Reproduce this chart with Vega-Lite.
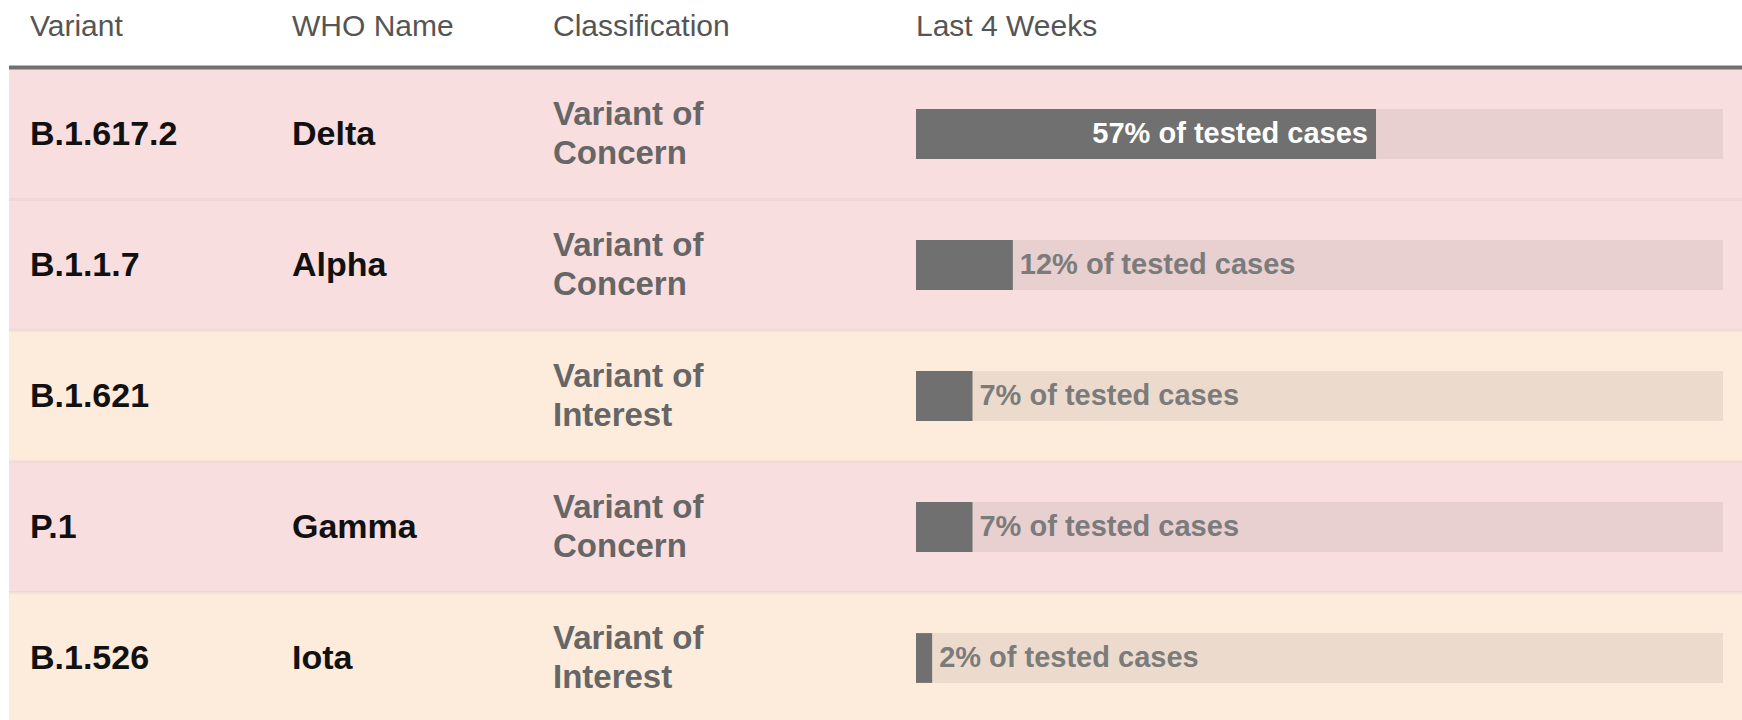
{
  "$schema": "https://vega.github.io/schema/vega-lite/v6.json",
  "padding": {"left": 7, "top": 0, "right": 0, "bottom": 0},
  "spacing": 0,
  "bounds": "flush",
  "background": "#ffffff",
  "config": {
    "view": {"stroke": null},
    "font": "Liberation Sans",
    "text": {"font": "Liberation Sans"}
  },
  "datasets": {
    "rows": [
      {"variant": "B.1.617.2", "who": "Delta", "classification": "Variant of\nConcern", "pct": 57, "label": "57% of tested cases"},
      {"variant": "B.1.1.7", "who": "Alpha", "classification": "Variant of\nConcern", "pct": 12, "label": "12% of tested cases"},
      {"variant": "B.1.621", "who": "", "classification": "Variant of\nInterest", "pct": 7, "label": "7% of tested cases"},
      {"variant": "P.1", "who": "Gamma", "classification": "Variant of\nConcern", "pct": 7, "label": "7% of tested cases"},
      {"variant": "B.1.526", "who": "Iota", "classification": "Variant of\nInterest", "pct": 2, "label": "2% of tested cases"}
    ]
  },
  "hconcat": [
    {
      "width": 283,
      "height": 720,
      "layer": [
        {
          "data": {"name": "rows"},
          "mark": {"type": "rect"},
          "encoding": {
            "y": {"field": "variant", "type": "nominal", "sort": null, "axis": null, "scale": {"range": [68.5, 723.5], "paddingInner": 0, "paddingOuter": 0}},
            "fill": {"field": "classification", "type": "nominal", "legend": null, "scale": {"domain": ["Variant of\nConcern", "Variant of\nInterest"], "range": ["#f9dedf", "#fdebdb"]}}
          }
        },
        {
          "data": {"name": "rows"},
          "mark": {"type": "rule", "color": "#000000", "opacity": 0.05, "strokeWidth": 2.5},
          "encoding": {"y": {"field": "variant", "type": "nominal", "sort": null, "bandPosition": 1}}
        },
        {
          "data": {"name": "rows"},
          "mark": {"type": "text", "align": "left", "baseline": "middle", "fontSize": 34, "fontWeight": "bold", "color": "#111111", "x": 21, "dy": 1},
          "encoding": {
            "y": {"field": "variant", "type": "nominal", "sort": null},
            "text": {"field": "variant"}
          }
        },
        {
          "data": {"values": [{"h": "Variant"}]},
          "mark": {"type": "text", "align": "left", "baseline": "alphabetic", "fontSize": 30, "color": "#555555", "x": 21, "y": 36},
          "encoding": {"text": {"field": "h"}}
        },
        {
          "data": {"values": [{"h": "line"}]},
          "mark": {"type": "rule", "color": "#707070", "strokeWidth": 4},
          "encoding": {"y": {"value": 67.5}}
        }
      ]
    },
    {
      "width": 261,
      "height": 720,
      "layer": [
        {
          "data": {"name": "rows"},
          "mark": {"type": "rect"},
          "encoding": {
            "y": {"field": "variant", "type": "nominal", "sort": null, "axis": null, "scale": {"range": [68.5, 723.5], "paddingInner": 0, "paddingOuter": 0}},
            "fill": {"field": "classification", "type": "nominal", "legend": null, "scale": {"domain": ["Variant of\nConcern", "Variant of\nInterest"], "range": ["#f9dedf", "#fdebdb"]}}
          }
        },
        {
          "data": {"name": "rows"},
          "mark": {"type": "rule", "color": "#000000", "opacity": 0.05, "strokeWidth": 2.5},
          "encoding": {"y": {"field": "variant", "type": "nominal", "sort": null, "bandPosition": 1}}
        },
        {
          "data": {"name": "rows"},
          "mark": {"type": "text", "align": "left", "baseline": "middle", "fontSize": 34, "fontWeight": "bold", "color": "#111111", "x": 0, "dy": 1},
          "encoding": {
            "y": {"field": "variant", "type": "nominal", "sort": null},
            "text": {"field": "who"}
          }
        },
        {
          "data": {"values": [{"h": "WHO Name"}]},
          "mark": {"type": "text", "align": "left", "baseline": "alphabetic", "fontSize": 30, "color": "#555555", "x": 0, "y": 36},
          "encoding": {"text": {"field": "h"}}
        },
        {
          "data": {"values": [{"h": "line"}]},
          "mark": {"type": "rule", "color": "#707070", "strokeWidth": 4},
          "encoding": {"y": {"value": 67.5}}
        }
      ]
    },
    {
      "width": 363,
      "height": 720,
      "layer": [
        {
          "data": {"name": "rows"},
          "mark": {"type": "rect"},
          "encoding": {
            "y": {"field": "variant", "type": "nominal", "sort": null, "axis": null, "scale": {"range": [68.5, 723.5], "paddingInner": 0, "paddingOuter": 0}},
            "fill": {"field": "classification", "type": "nominal", "legend": null, "scale": {"domain": ["Variant of\nConcern", "Variant of\nInterest"], "range": ["#f9dedf", "#fdebdb"]}}
          }
        },
        {
          "data": {"name": "rows"},
          "mark": {"type": "rule", "color": "#000000", "opacity": 0.05, "strokeWidth": 2.5},
          "encoding": {"y": {"field": "variant", "type": "nominal", "sort": null, "bandPosition": 1}}
        },
        {
          "data": {"name": "rows"},
          "mark": {"type": "text", "align": "left", "baseline": "middle", "fontSize": 33, "fontWeight": "bold", "color": "#666666", "x": 0, "dy": -19, "lineBreak": "\n", "lineHeight": 39},
          "encoding": {
            "y": {"field": "variant", "type": "nominal", "sort": null},
            "text": {"field": "classification"}
          }
        },
        {
          "data": {"values": [{"h": "Classification"}]},
          "mark": {"type": "text", "align": "left", "baseline": "alphabetic", "fontSize": 30, "color": "#555555", "x": 0, "y": 36},
          "encoding": {"text": {"field": "h"}}
        },
        {
          "data": {"values": [{"h": "line"}]},
          "mark": {"type": "rule", "color": "#707070", "strokeWidth": 4},
          "encoding": {"y": {"value": 67.5}}
        }
      ]
    },
    {
      "width": 826,
      "height": 720,
      "layer": [
        {
          "data": {"name": "rows"},
          "mark": {"type": "rect"},
          "encoding": {
            "y": {"field": "variant", "type": "nominal", "sort": null, "axis": null, "scale": {"range": [68.5, 723.5], "paddingInner": 0, "paddingOuter": 0}},
            "fill": {"field": "classification", "type": "nominal", "legend": null, "scale": {"domain": ["Variant of\nConcern", "Variant of\nInterest"], "range": ["#f9dedf", "#fdebdb"]}}
          }
        },
        {
          "data": {"name": "rows"},
          "mark": {"type": "rule", "color": "#000000", "opacity": 0.05, "strokeWidth": 2.5},
          "encoding": {"y": {"field": "variant", "type": "nominal", "sort": null, "bandPosition": 1}}
        },
        {
          "data": {"name": "rows"},
          "mark": {"type": "bar", "color": "#000000", "opacity": 0.065, "height": {"band": 0.38}},
          "encoding": {
            "y": {"field": "variant", "type": "nominal", "sort": null},
            "x": {"datum": 0, "type": "quantitative", "axis": null, "scale": {"domain": [0, 102.35], "nice": false, "zero": true}},
            "x2": {"datum": 100}
          }
        },
        {
          "data": {"name": "rows"},
          "mark": {"type": "bar", "color": "#707070", "height": {"band": 0.38}},
          "encoding": {
            "y": {"field": "variant", "type": "nominal", "sort": null},
            "x": {"field": "pct", "type": "quantitative"}
          }
        },
        {
          "data": {"name": "rows"},
          "transform": [{"filter": "datum.pct >= 30"}],
          "mark": {"type": "text", "align": "right", "baseline": "middle", "fontSize": 29, "fontWeight": "bold", "color": "#ffffff", "dx": -8},
          "encoding": {
            "y": {"field": "variant", "type": "nominal", "sort": null},
            "x": {"field": "pct", "type": "quantitative"},
            "text": {"field": "label"}
          }
        },
        {
          "data": {"name": "rows"},
          "transform": [{"filter": "datum.pct < 30"}],
          "mark": {"type": "text", "align": "left", "baseline": "middle", "fontSize": 29, "fontWeight": "bold", "color": "#7b7b7b", "dx": 7},
          "encoding": {
            "y": {"field": "variant", "type": "nominal", "sort": null},
            "x": {"field": "pct", "type": "quantitative"},
            "text": {"field": "label"}
          }
        },
        {
          "data": {"values": [{"h": "Last 4 Weeks"}]},
          "mark": {"type": "text", "align": "left", "baseline": "alphabetic", "fontSize": 30, "color": "#555555", "x": 0, "y": 36},
          "encoding": {"text": {"field": "h"}}
        },
        {
          "data": {"values": [{"h": "line"}]},
          "mark": {"type": "rule", "color": "#707070", "strokeWidth": 4},
          "encoding": {"y": {"value": 67.5}}
        }
      ]
    }
  ]
}
